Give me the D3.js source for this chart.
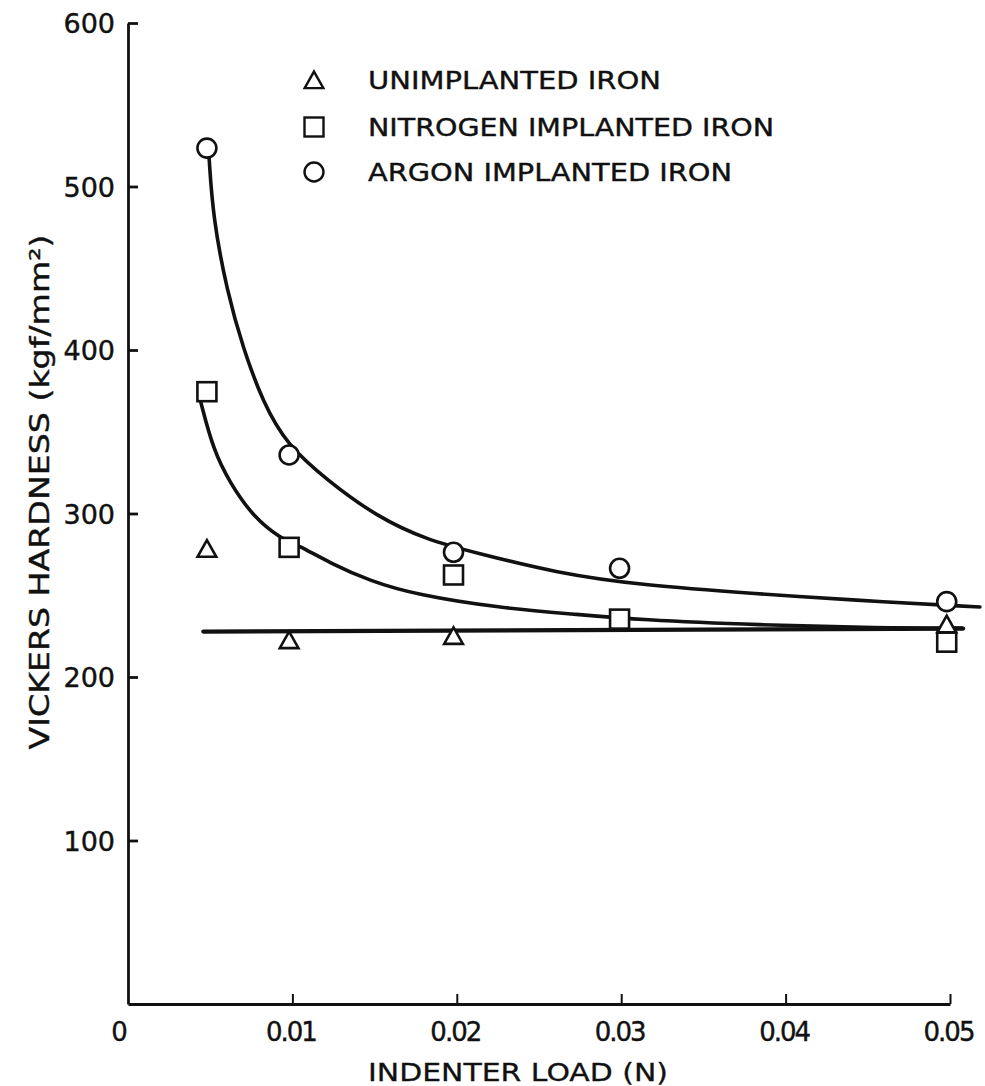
<!DOCTYPE html>
<html>
<head>
<meta charset="utf-8">
<script src="https://cdn.jsdelivr.net/npm/d3@7"></script>
<style>
  html, body { margin: 0; padding: 0; background: #fff; }
  svg { display: block; }
  text { font-family: "DejaVu Sans", "Liberation Sans", sans-serif; fill: #111; }
</style>
</head>
<body>
<svg id="chart" width="985" height="1086"></svg>
<script>
// ---- data ----
const loads = [0.0048, 0.0098, 0.0198, 0.0299, 0.0498];
const unimplanted = [278.5, 222.6, 225.2, 234.4, 232.3];
const nitrogen = [374.5, 279.3, 262.4, 235.4, 221.3];
const argon = [523.5, 335.8, 276.3, 266.5, 246.1];

// hand-drawn fitted curves
const argonCurveX = [0.00493, 0.00517, 0.00602, 0.0070, 0.00821, 0.00967, 0.0121, 0.01515, 0.0182, 0.02123, 0.0261, 0.0311, 0.03844, 0.04392, 0.05182];
const argonCurveY = [518.0, 481.0, 436.0, 401.0, 368.0, 342.0, 320.5, 297.9, 283.8, 275.8, 263.6, 256.3, 250.8, 247.1, 242.8];
const nitrogenCurveX = [0.00442, 0.00519, 0.0062, 0.00762, 0.00925, 0.01034, 0.01229, 0.01472, 0.01758, 0.02263, 0.02707, 0.03114, 0.03844, 0.04574, 0.05073];
const nitrogenCurveY = [368.4, 338.8, 318.7, 298.0, 285.0, 280.7, 269.7, 258.7, 250.2, 242.2, 238.5, 234.9, 231.8, 230.0, 230.0];
const unimplantedLineX = [0.00458, 0.0508];
const unimplantedLineY = [227.8, 229.6];

const xTicks = [0, 0.01, 0.02, 0.03, 0.04, 0.05];
const xTickLabels = ["0", "0.01", "0.02", "0.03", "0.04", "0.05"];
const yTicks = [100, 200, 300, 400, 500, 600];
const legendLabels = ["UNIMPLANTED IRON", "NITROGEN IMPLANTED IRON", "ARGON IMPLANTED IRON"];
const xTitle = "INDENTER LOAD (N)";
const yTitle = "VICKERS HARDNESS (kgf/mm²)";

// ---- scales ----
const svg = d3.select("#chart");
const x = d3.scaleLinear().domain([0, 0.05]).range([128, 950]);
const y = d3.scaleLinear().domain([0, 600]).range([1004, 23]);

// ---- axes ----
const yAxis = d3.axisLeft(y).tickValues(yTicks).tickSize(-10).tickSizeOuter(0).tickPadding(13).tickFormat(d3.format("d"));
const gy = svg.append("g").attr("transform", `translate(${x(0)},0)`).call(yAxis);
gy.select(".domain").attr("stroke", "#111").attr("stroke-width", 2.8);
gy.selectAll(".tick line").attr("stroke", "#111").attr("stroke-width", 2.8);
gy.selectAll(".tick text").attr("font-size", 27).attr("fill", "#111").attr("dy", "0.36em")
  .attr("stroke", "#111").attr("stroke-width", 0.4);

const xAxis = d3.axisBottom(x).tickValues(xTicks).tickSize(-10).tickSizeOuter(0).tickPadding(19)
  .tickFormat((d, i) => xTickLabels[i]);
const gx = svg.append("g").attr("transform", `translate(0,${y(0)})`).call(xAxis);
gx.select(".domain").attr("stroke", "#111").attr("stroke-width", 3.2);
gx.selectAll(".tick line").attr("stroke", "#111").attr("stroke-width", 2).attr("opacity", (d) => d === 0 ? 0 : 1);
gx.selectAll(".tick text").attr("font-size", 26).attr("fill", "#111")
  .attr("stroke", "#111").attr("stroke-width", 0.4)
  .attr("dx", (d) => d === 0 ? -10 : -2).attr("letter-spacing", -2);

// axis titles
svg.append("text").attr("x", 518).attr("y", 1081).attr("text-anchor", "middle")
  .attr("font-size", 25).attr("stroke", "#111").attr("stroke-width", 0.3)
  .attr("textLength", 300).attr("lengthAdjust", "spacingAndGlyphs").text(xTitle);
svg.append("text").attr("transform", "translate(49,492) rotate(-90)").attr("text-anchor", "middle")
  .attr("font-size", 26).attr("stroke", "#111").attr("stroke-width", 0.4)
  .attr("textLength", 515).attr("lengthAdjust", "spacingAndGlyphs").text(yTitle);

// ---- lines ----
function drawCurve(xs, ys, width, curve) {
  const pts = xs.map((v, i) => [v, ys[i]]);
  svg.append("path").datum(pts)
    .attr("d", d3.line().x(d => x(d[0])).y(d => y(d[1])).curve(curve))
    .attr("fill", "none").attr("stroke", "#111").attr("stroke-width", width)
    .attr("stroke-linecap", "round");
}
drawCurve(argonCurveX, argonCurveY, 3.6, d3.curveBasis);
drawCurve(nitrogenCurveX, nitrogenCurveY, 3.6, d3.curveBasis);
drawCurve(unimplantedLineX, unimplantedLineY, 4.2, d3.curveLinear);

// ---- markers ----
const tri = (cx, cy, s) => `M${cx},${cy - s * 0.47}L${cx + s * 0.52},${cy + s * 0.45}L${cx - s * 0.52},${cy + s * 0.45}Z`;
function marker(g, kind, cx, cy) {
  if (kind === "tri") {
    g.append("path").attr("d", tri(cx, cy, 18));
  } else if (kind === "sq") {
    g.append("rect").attr("x", cx - 9.5).attr("y", cy - 9.5).attr("width", 19).attr("height", 19);
  } else {
    g.append("circle").attr("cx", cx).attr("cy", cy).attr("r", 9.5);
  }
}
const mg = svg.append("g").attr("fill", "#fff").attr("stroke", "#111").attr("stroke-width", 2.6);
const series = [["tri", unimplanted], ["sq", nitrogen], ["circ", argon]];
series.forEach(([kind, vals]) => {
  vals.forEach((v, i) => marker(mg, kind, x(loads[i]), y(v)));
});

// ---- legend ----
const legendY = [80, 127, 172];
const legendW = [293, 406, 364];
const lg = svg.append("g");
series.forEach(([kind], i) => {
  const mgl = lg.append("g").attr("fill", "#fff").attr("stroke", "#111").attr("stroke-width", 2.4);
  marker(mgl, kind, 314, legendY[i]);
  lg.append("text").attr("x", 368).attr("y", legendY[i]).attr("dy", "0.36em")
    .attr("font-size", 25).attr("stroke", "#111").attr("stroke-width", 0.4)
    .attr("textLength", legendW[i]).attr("lengthAdjust", "spacingAndGlyphs")
    .text(legendLabels[i]);
});
</script>
</body>
</html>
